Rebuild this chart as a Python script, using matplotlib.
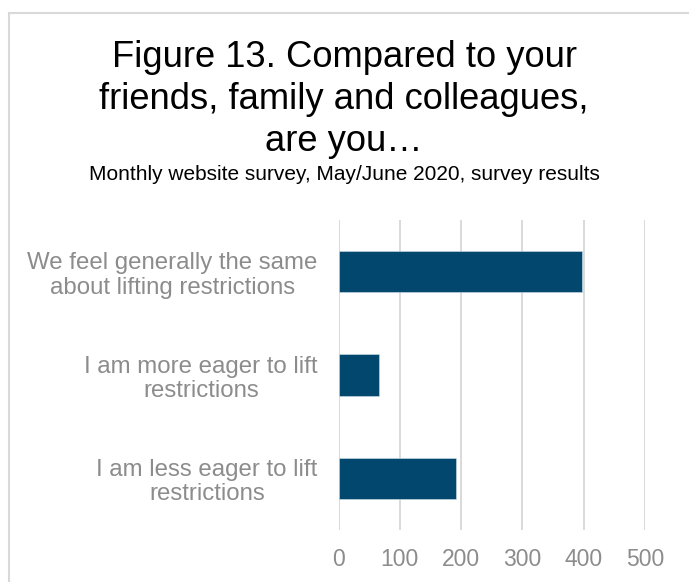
import matplotlib.pyplot as plt
from matplotlib.patches import Rectangle

# 数据
categories = ['I am less eager to lift\nrestrictions',
              'I am more eager to lift\nrestrictions',
              'We feel generally the same\nabout lifting restrictions']
counts = [192, 66, 398]
xticks = [0, 100, 200, 300, 400, 500]

plt.rcParams['font.family'] = ['Liberation Sans', 'DejaVu Sans']

fig = plt.figure(figsize=(6.89, 5.82), dpi=100)
ax = fig.add_axes([0.4913, 0.0893, 0.4448, 0.5327])

# 条形图
ax.barh(range(len(categories)), counts, height=0.4, color='#02476E',
        edgecolor='#cfe0ea', linewidth=0.4, zorder=3)
ax.set_ylim(-0.5, len(categories) - 0.5)
ax.set_xlim(0, 500)
ax.set_xticks(xticks)
ax.set_yticks(range(len(categories)))
ax.set_yticklabels(categories, ha='right', multialignment='center', linespacing=1.15)
ax.tick_params(axis='y', length=0, pad=15, labelsize=17.3, labelcolor='#8c8c8c')
ax.tick_params(axis='x', length=0, pad=13, labelsize=16.5, labelcolor='#8c8c8c')
ax.grid(axis='x', color='#d9d9d9', linewidth=1.4, zorder=0)
for s in ax.spines.values():
    s.set_visible(False)

# 标题
fig.text(0.4993, 0.932, 'Figure 13. Compared to your\nfriends, family and colleagues,\nare you\u2026',
         ha='center', va='top', fontsize=26.2, linespacing=1.26, color='black')
fig.text(0.4993, 0.69, 'Monthly website survey, May/June 2020, survey results',
         ha='center', va='baseline', fontsize=15, color='black')

# 外框
fig.patches.append(Rectangle((9 / 689, -0.1), 1.2, 1 - 13 / 582 + 0.1, transform=fig.transFigure,
                             fill=False, edgecolor='#d9d9d9', linewidth=1.5))

fig.savefig('out.png', dpi=100)
